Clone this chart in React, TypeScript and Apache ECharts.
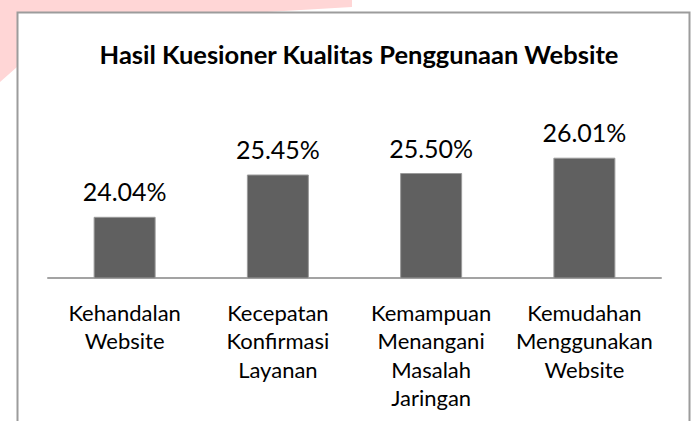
import React, { useEffect, useRef } from "react";
import * as echarts from "echarts";

const titleText = "Hasil Kuesioner Kualitas Penggunaan Website";
const categories = [
  "Kehandalan\nWebsite",
  "Kecepatan\nKonfirmasi\nLayanan",
  "Kemampuan\nMenangani\nMasalah\nJaringan",
  "Kemudahan\nMenggunakan\nWebsite",
];
const values = [24.04, 25.45, 25.5, 26.01];

const FONT = "Lato";

export default function App() {
  const ref = useRef<HTMLDivElement>(null);
  useEffect(() => {
    if (!ref.current) return;
    const chart = echarts.init(ref.current, undefined, { renderer: "svg" });
    chart.setOption({
      animation: false,
      backgroundColor: "#ffffff",
      graphic: [
        {
          type: "polygon",
          z: -20,
          silent: true,
          shape: {
            points: [
              [0, 0],
              [352, 0],
              [352, 7],
              [250, 13],
              [17, 13],
              [17, 67],
              [0, 82],
            ],
          },
          style: { fill: "#ffd6d6" },
        },
        {
          type: "rect",
          z: -10,
          silent: true,
          shape: { x: 17.5, y: 12.5, width: 672, height: 440 },
          style: { fill: "#ffffff", stroke: "#9c9c9c", lineWidth: 2 },
        },
      ],
      title: {
        text: titleText,
        left: 354,
        top: 36,
        textAlign: "center",
        textStyle: {
          fontFamily: FONT,
          fontWeight: "bold",
          fontSize: 25.5,
          color: "#000000",
        },
      },
      grid: { left: 48, right: 31, top: 128, bottom: 143 },
      xAxis: {
        type: "category",
        data: categories,
        axisLine: { lineStyle: { color: "#a3a3a3", width: 2 } },
        axisTick: { show: false },
        axisLabel: {
          interval: 0,
          margin: 20,
          fontFamily: FONT,
          fontSize: 22,
          lineHeight: 28.5,
          color: "#000000",
        },
      },
      yAxis: {
        type: "value",
        min: 22,
        max: 27,
        show: false,
        splitLine: { show: false },
      },
      series: [
        {
          type: "bar",
          data: values,
          barWidth: 62,
          itemStyle: {
            color: "#606060",
            borderColor: "#9a9a9a",
            borderWidth: 1,
          },
          label: {
            show: true,
            position: "top",
            distance: 13,
            fontFamily: FONT,
            fontSize: 25,
            color: "#000000",
            formatter: (p: any) => p.value.toFixed(2) + "%",
          },
        },
      ],
    });
    return () => chart.dispose();
  }, []);
  return (
    <div
      ref={ref}
      style={{ position: "fixed", left: 0, top: 0, width: 692, height: 421 }}
    />
  );
}
